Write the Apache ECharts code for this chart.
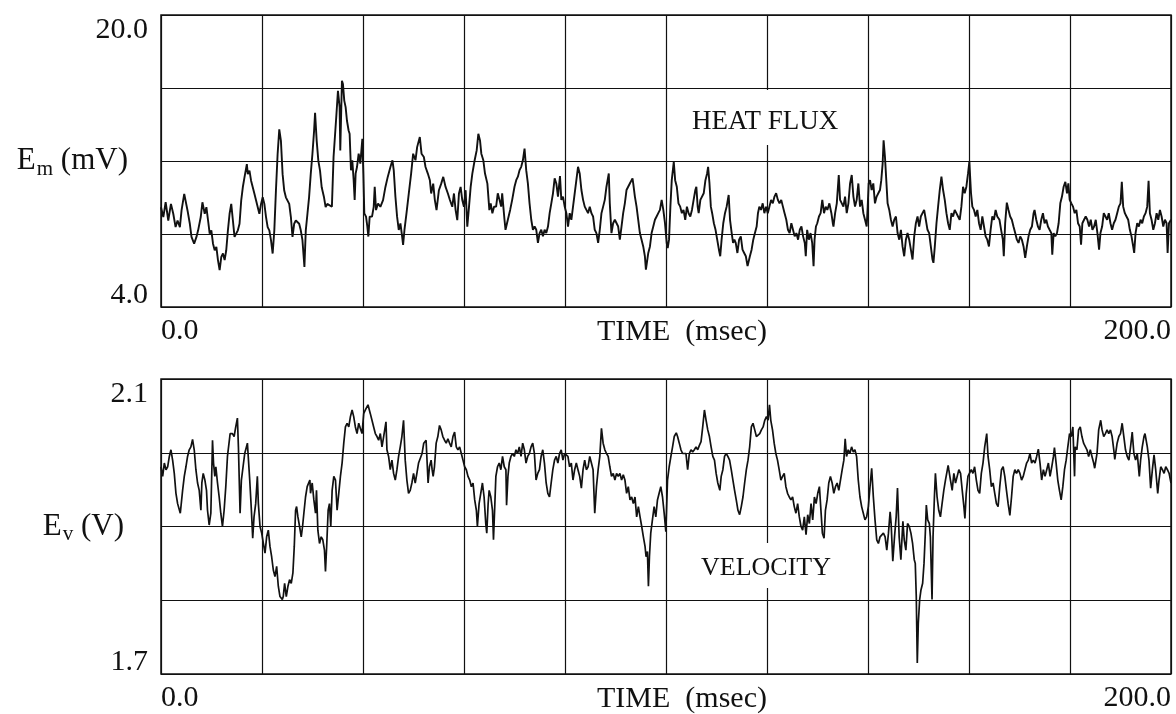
<!DOCTYPE html>
<html>
<head>
<meta charset="utf-8">
<title>Heat flux and velocity signals</title>
<script src="https://cdn.jsdelivr.net/npm/echarts@6.0.0/dist/echarts.min.js"></script>
<style>
  html, body { margin: 0; padding: 0; background: #ffffff; }
  #chart { width: 1176px; height: 714px; }
</style>
</head>
<body>
<div id="chart"></div>
<script>
// Time window shared by both traces (msec)
const timeRange = [0, 200];
const timeStep = 20;

// Heat-flux gauge output E_m (mV)
const heatFluxRange = [4, 20];
const heatFluxStep = 4;

// Velocity probe output E_v (V)
const velocityRange = [1.7, 2.1];
const velocityStep = 0.1;

// Heat-flux trace: [time (msec), E_m (mV)]
const heatFlux = [
  [0,9.47],[0.46,8.93],[0.92,9.74],[1.44,8.74],[1.97,9.65],[2.43,9.11],[2.89,8.38],[3.28,8.74],[3.74,8.38],[4.07,9.29],
  [4.6,10.2],[5.25,9.29],[5.71,8.56],[6.04,7.84],[6.56,7.47],[7.02,7.84],[7.35,8.2],[7.87,8.93],[8.2,9.74],[8.66,9.11],
  [8.99,9.47],[9.32,8.74],[9.64,8.02],[9.97,8.2],[10.3,7.47],[10.63,7.11],[10.96,7.29],[11.28,6.57],[11.61,6.02],[11.94,6.75],
  [12.27,6.93],[12.6,6.57],[12.92,7.11],[13.25,8.2],[13.58,9.11],[13.91,9.65],[14.24,8.74],[14.56,7.84],[14.89,8.02],[15.22,8.2],
  [15.55,8.56],[15.88,9.83],[16.2,10.56],[16.53,11.1],[17.0,11.83],[17.19,11.28],[17.52,11.47],[17.84,10.92],[18.17,10.56],[18.5,10.2],
  [18.83,9.83],[19.16,9.47],[19.48,9.11],[19.81,9.65],[20.14,10.01],[20.47,9.65],[20.8,8.93],[21.12,8.38],[21.45,8.2],[21.78,7.66],
  [22.11,6.93],[22.44,8.2],[22.76,10.38],[23.09,12.37],[23.42,13.73],[23.75,13.1],[24.08,11.28],[24.4,10.38],[24.73,10.01],[25.06,9.83],
  [25.39,9.65],[25.72,8.93],[26.04,7.84],[26.37,8.56],[26.7,8.74],[27.03,8.74],[27.36,8.56],[27.68,8.2],[28.01,7.66],[28.4,6.2],
  [28.67,8.2],[29.0,9.11],[29.32,10.01],[29.65,11.28],[29.98,12.37],[30.31,13.64],[30.51,14.64],[30.83,13.1],[31.16,12.01],[31.49,11.47],
  [31.82,10.56],[32.28,10.01],[32.6,9.47],[32.93,9.65],
  [33.18,9.6],[33.84,9.49],[34.17,12.22],[34.7,14.4],[35.04,15.85],[35.37,14.95],[35.5,12.58],[35.83,16.4],[36.03,16.22],[36.29,15.31],
  [36.56,14.95],[36.82,14.22],[37.15,13.67],[37.35,13.49],[37.62,11.49],[37.88,12.04],[38.15,10.95],[38.35,9.86],[38.54,11.31],[38.81,11.67],
  [39.14,12.4],[39.47,11.86],[39.87,13.22],[40.07,11.31],[40.26,9.13],[40.6,8.95],[40.86,8.4],[41.06,7.86],[41.32,8.95],[41.79,8.95],
  [42.12,9.49],[42.32,10.58],[42.58,9.31],[42.98,9.67],[43.44,9.49],[43.97,9.86],[44.44,10.58],[44.9,11.13],[45.43,11.67],[45.83,12.04],
  [46.09,11.49],[46.42,10.04],[46.75,8.95],[47.08,8.22],[47.41,8.58],[47.75,7.86],[47.94,7.4],[48.21,8.22],[48.61,9.13],[49.07,10.22],
  [49.53,11.31],[49.93,12.4],[50.39,12.04],[50.72,12.76],[51.25,13.31],[51.59,12.4],[52.05,12.22],[52.38,11.67],[52.84,11.31],[53.24,10.95],
  [53.5,10.22],[53.9,10.76],[54.23,9.86],[54.56,9.31],[55.03,10.4],[55.49,10.76],[55.89,11.13],[56.35,10.58],[56.81,10.22],[57.21,9.86],
  [57.68,9.49],[58.01,10.22],[58.34,9.31],[58.67,8.76],[59.0,10.22],[59.33,10.58],[59.66,9.86],[59.99,9.49],[60.32,10.4],[60.65,8.4],
  [60.99,9.49],[61.32,10.58],[61.65,11.31],[62.11,12.04],[62.51,12.58],[62.84,13.49],[63.17,13.13],[63.43,12.4],[63.83,12.04],[64.16,11.31],
  [64.63,10.76],[65.02,9.31],[65.29,9.67],[65.62,9.13],[65.95,9.49],
  [66.36,9.5],[66.69,10.23],[67.03,9.87],[67.36,9.5],[67.56,10.23],[68.02,8.78],[68.22,8.23],[68.68,8.78],[69.14,9.32],[69.54,9.87],
  [70.0,10.59],[70.34,10.95],[70.67,11.14],[71.0,11.5],[71.33,11.68],[71.66,12.04],[71.99,12.68],[72.32,11.5],[72.65,10.77],[72.98,9.68],
  [73.32,8.78],[73.65,8.23],[73.98,8.41],[74.31,8.23],[74.64,7.51],[74.97,8.05],[75.3,8.23],[75.63,7.87],[75.96,8.23],[76.29,8.05],
  [76.63,8.41],[76.96,9.14],[77.29,9.68],[77.62,10.23],[77.95,11.05],[78.28,10.77],[78.61,10.05],[79.01,11.17],[79.27,9.87],[79.6,10.05],
  [79.94,9.5],[80.27,9.14],[80.6,8.41],[80.93,9.14],[81.26,8.78],[81.59,9.5],[81.92,10.23],[82.25,10.95],[82.58,11.68],[82.91,11.32],
  [83.25,10.41],[83.58,9.87],[83.91,9.5],[84.24,9.32],[84.57,9.14],[84.9,9.5],[85.23,9.14],[85.56,8.96],[85.89,8.23],[86.22,8.05],
  [86.56,7.51],[86.89,8.23],[87.22,9.14],[87.55,9.5],[87.88,9.87],[88.21,10.59],[88.67,11.32],[88.87,9.68],[89.2,8.05],[89.53,8.59],
  [89.87,8.78],[90.2,8.78],[90.53,8.41],[90.86,7.69],[91.19,8.41],[91.52,9.14],[91.85,9.68],[92.18,10.41],[92.51,10.59],[92.84,10.77],
  [93.37,11.05],[93.51,10.77],[93.84,10.05],[94.17,9.5],[94.5,8.78],[94.83,8.05],[95.16,7.69],[95.49,7.32],[95.82,6.78],[96.02,6.05],
  [96.49,6.96],[96.82,7.32],[97.15,8.05],[97.48,8.41],[97.81,8.78],[98.14,8.96],[98.47,9.14],[98.8,9.32],
  [99.14,9.87],[99.47,9.32],[99.8,8.59],[100.14,7.51],[100.34,7.23],[100.6,7.69],[100.87,9.5],[101.14,10.95],[101.54,11.95],[101.81,10.95],
  [102.14,10.59],[102.47,9.68],[102.81,9.5],[103.14,9.14],[103.47,9.32],[103.81,8.78],[104.14,9.5],[104.47,9.14],[104.81,8.96],[105.14,9.32],
  [105.47,9.87],[105.81,10.41],[106.01,10.59],[106.27,9.5],[106.47,9.14],[106.81,9.87],[107.14,9.87],[107.47,10.23],[107.81,10.95],[108.14,11.32],
  [108.34,11.68],[108.61,10.77],[108.88,9.5],[109.14,9.14],[109.48,8.59],[109.81,8.23],[110.14,7.69],[110.48,7.14],[110.74,6.78],[111.01,7.69],
  [111.34,8.59],[111.68,9.14],[112.01,9.5],[112.41,10.14],[112.68,8.78],[113.01,8.05],[113.28,7.51],[113.54,7.69],[113.81,7.51],[114.14,6.96],
  [114.48,7.69],[114.81,7.87],[115.15,7.14],[115.48,6.96],[115.81,6.78],[116.15,6.24],[116.35,6.14],[116.61,6.78],[116.95,7.14],[117.28,7.69],
  [117.61,8.05],[117.95,8.41],[118.21,9.14],[118.48,9.5],[118.81,9.32],[119.15,9.68],[119.48,9.14],[119.81,9.5],[120.15,9.14],[120.48,9.5],
  [120.81,9.87],[121.15,9.68],[121.48,10.05],[121.81,10.23],[122.15,9.87],[122.48,9.68],[122.82,9.87],[123.15,9.5],[123.48,9.14],[123.82,8.78],
  [124.15,8.23],[124.48,8.05],[124.82,8.59],[125.15,8.23],[125.48,7.87],[125.82,8.05],[126.15,7.69],[126.49,8.23],[126.82,8.41],[127.15,7.87],
  [127.48,7.51],[127.68,6.78],[127.95,8.23],[128.29,7.69],[128.62,8.05],[128.95,7.51],[129.22,6.24],[129.42,7.69],[129.69,8.41],[129.95,8.59],
  [130.29,8.96],[130.62,9.14],[130.95,9.87],[131.29,9.14],[131.62,9.5],[131.95,9.32],[132.35,9.68],[132.75,9.14],
  [133.03,8.59],[133.16,8.41],[133.49,9.14],[133.82,9.68],[134.21,11.23],[134.47,9.87],[134.8,9.87],[135.13,9.5],[135.46,10.05],[135.79,9.14],
  [136.12,9.68],[136.45,10.77],[136.78,11.23],[137.11,10.05],[137.43,9.5],[137.76,9.87],[138.09,10.77],[138.42,9.5],[138.75,9.87],[139.08,9.14],
  [139.41,8.78],[139.74,8.41],[139.94,9.5],[140.13,10.77],[140.4,10.95],[140.72,10.41],[141.05,10.77],[141.38,9.68],[141.71,10.05],[142.04,10.23],
  [142.37,10.41],[142.63,10.95],[142.9,11.86],[143.09,13.13],[143.36,12.22],[143.62,10.95],[143.88,9.68],[144.21,9.32],[144.54,8.78],[144.87,8.41],
  [145.2,8.78],[145.53,8.96],[145.86,8.05],[146.19,7.69],[146.52,8.23],[146.84,7.32],[147.17,6.78],[147.5,7.69],[147.83,8.05],[148.16,7.69],
  [148.49,7.14],[148.82,6.6],[149.15,7.87],[149.48,8.59],[149.81,8.96],[150.13,8.41],[150.46,8.96],[150.79,9.14],[151.12,9.32],[151.45,8.78],
  [151.78,8.23],[152.11,8.05],[152.44,7.32],[152.77,6.6],[152.96,6.42],[153.23,7.32],[153.56,8.59],[153.88,9.5],[154.21,10.41],[154.54,11.14],
  [154.87,10.41],[155.2,9.87],[155.53,9.14],[155.86,8.59],[156.19,8.23],[156.52,9.14],[156.85,8.96],[157.17,9.32],[157.5,9.14],[157.83,8.96],
  [158.16,8.78],[158.49,9.5],[158.82,10.59],[159.15,10.23],[159.48,10.59],[159.81,11.32],[160.07,11.95],[160.4,10.23],[160.66,9.5],[160.99,9.32],
  [161.32,8.96],[161.65,9.32],[161.98,8.59],[162.31,8.23],[162.64,8.96],[162.97,8.41],[163.29,7.87],[163.62,7.69],[163.95,7.32],[164.28,8.23],
  [164.61,8.96],[164.94,8.78],[165.27,9.32],[165.6,8.96],
  [166.03,8.78],[166.36,8.23],[166.7,7.69],[166.89,6.78],[167.16,8.59],[167.49,9.72],[167.82,9.32],[168.15,8.96],[168.48,8.78],[168.81,8.41],
  [169.15,8.05],[169.48,7.69],[169.81,7.51],[170.14,7.87],[170.47,7.69],[170.8,7.32],[171.13,6.69],[171.46,7.32],[171.79,7.87],[172.12,8.23],
  [172.46,8.41],[172.79,9.14],[172.98,9.32],[173.32,8.78],[173.65,8.41],[173.98,8.23],[174.31,8.78],[174.64,9.14],[174.97,8.59],[175.3,8.78],
  [175.63,8.41],[175.96,8.23],[176.3,8.05],[176.49,6.87],[176.76,8.05],[177.09,7.87],[177.42,8.05],[177.75,8.59],[178.08,9.68],[178.41,10.05],
  [178.74,10.59],[179.08,10.86],[179.41,10.23],[179.67,10.77],[179.94,9.87],[180.27,9.68],[180.6,9.5],[180.93,9.14],[181.26,9.32],[181.59,8.59],
  [181.92,8.41],[182.19,7.42],[182.45,8.59],[182.78,8.78],[183.11,8.96],[183.44,8.78],[183.78,8.41],[184.11,8.78],[184.44,8.23],[184.77,8.41],
  [185.1,8.78],[185.43,8.05],[185.76,7.14],[186.03,8.05],[186.36,8.41],[186.69,9.14],[187.02,8.96],[187.35,8.78],[187.68,9.14],[188.01,8.59],
  [188.34,8.23],[188.67,8.59],[189.0,8.78],[189.34,9.14],[189.67,9.5],[190.0,9.68],[190.26,10.86],[190.53,9.5],[190.86,9.14],[191.19,8.96],
  [191.52,8.78],[191.85,8.23],[192.18,7.87],[192.51,7.32],[192.71,6.96],[192.98,8.05],[193.31,8.59],[193.64,8.41],[193.97,8.78],[194.3,8.59],
  [194.63,8.96],[194.96,9.14],[195.29,9.5],[195.56,10.92],[195.82,9.14],[196.15,8.78],[196.49,8.23],[196.82,8.59],[197.15,9.14],[197.48,8.78],
  [197.81,9.32],[198.14,8.96],[198.47,8.41],[198.8,8.78],[199.13,8.59],[199.33,6.96],[199.6,8.59],[200,8.78]
];

// Velocity trace: [time (msec), E_v (V)]
const velocity = [
  [0,1.981],[0.33,1.968],[0.66,1.986],[0.99,1.977],[1.32,1.981],[1.65,1.995],[1.97,2.004],[2.3,1.99],[2.63,1.972],[2.96,1.945],
  [3.29,1.931],[3.82,1.918],[4.28,1.949],[4.61,1.968],[4.94,1.981],[5.26,1.995],[5.59,2.004],[5.92,2.008],[6.25,2.018],[6.58,2.004],
  [6.91,1.977],[7.24,1.959],[7.57,1.949],[7.9,1.922],[8.09,1.959],[8.36,1.972],[8.69,1.963],[9.01,1.949],[9.21,1.922],[9.54,1.902],
  [9.87,1.918],[10.2,2.017],[10.4,1.986],[10.66,1.968],[10.86,1.981],[11.19,1.959],[11.52,1.94],[11.84,1.918],[12.17,1.9],[12.5,1.922],
  [12.83,1.954],[13.16,1.995],[13.69,2.026],[14.15,2.026],[14.48,2.022],[14.8,2.035],[15.13,2.047],[15.33,2.008],[15.66,1.918],[15.92,1.963],
  [16.25,1.981],[16.58,1.999],[17.11,2.013],[17.24,1.999],[17.57,1.963],[17.9,1.922],[18.16,1.884],[18.42,1.913],[18.75,1.931],[19.08,1.968],
  [19.28,1.931],[19.61,1.9],[19.94,1.891],[20.27,1.877],[20.6,1.864],[20.92,1.886],[21.25,1.895],[21.58,1.873],[21.91,1.859],[22.24,1.841],
  [22.57,1.832],[22.9,1.846],[23.23,1.819],[23.56,1.805],[24.02,1.801],[24.21,1.805],[24.48,1.823],[24.81,1.805],[25.14,1.819],[25.46,1.828],
  [25.79,1.823],[26.12,1.837],[26.39,1.873],[26.65,1.922],[26.85,1.927],[27.11,1.913],[27.44,1.9],[27.77,1.886],[28.03,1.9],[28.29,1.918],
  [28.62,1.94],[28.95,1.954],[29.48,1.963],[29.61,1.945],[29.94,1.959],[30.27,1.936],[30.6,1.918],[30.79,1.949],[31.06,1.895],[31.39,1.877],
  [31.72,1.886],[32.04,1.882],[32.37,1.868],[32.57,1.839],[32.83,1.877],[33.1,1.922],[33.36,1.931],[33.62,1.9],[33.89,1.949],[34.22,1.968],
  [34.55,1.963],[34.87,1.922],[35.2,1.945],[35.53,1.968],[35.86,1.986],[36.19,2.013],[36.52,2.035],[36.85,2.04],[37.18,2.035],[37.51,2.049],
  [37.84,2.058],[38.16,2.049],[38.49,2.035],[38.82,2.026],[39.15,2.04],[39.48,2.033],[39.81,2.026],[40.14,2.053],[40.47,2.058],[40.99,2.065],
  [41.45,2.053],[41.78,2.044],[42.11,2.035],[42.44,2.026],[42.77,2.022],[43.1,2.017],[43.43,2.026],[43.76,2.008],[44.09,2.022],[44.55,2.042],
  [44.74,2.004],[45.07,1.995],[45.4,1.977],[45.73,1.99],[46.06,1.972],[46.39,1.963],[46.72,1.977],[47.05,1.995],[47.38,2.008],[47.7,2.022],
  [48.03,2.044],[48.36,1.99],[48.69,1.963],[49.02,1.945],[49.35,1.949],[49.68,1.959],[50.01,1.972],[50.34,1.959],[50.67,1.972],[51.0,1.986],
  [51.37,1.986],[51.7,1.999],[52.03,2.013],[52.49,2.017],[52.89,1.959],[53.16,1.981],[53.49,1.99],[53.69,1.977],[53.89,1.968],[54.15,1.981],
  [54.49,2.013],[54.82,2.022],[55.15,2.037],[55.48,2.031],[55.81,2.022],[56.15,2.017],[56.48,2.013],[56.81,2.019],[57.14,2.013],[57.47,2.008],
  [57.81,2.022],[58.14,2.028],[58.47,2.008],[58.8,2.004],[59.13,2.008],[59.47,1.999],[59.8,1.99],[60.13,1.981],[60.46,1.977],[60.79,1.968],
  [61.13,1.963],[61.46,1.954],[61.79,1.959],[62.12,1.936],[62.45,1.922],[62.65,1.9],[62.99,1.931],[63.32,1.945],[63.65,1.959],[63.98,1.94],
  [64.31,1.904],[64.51,1.891],[64.78,1.931],[64.98,1.949],[65.31,1.94],[65.64,1.922],[65.84,1.882],[66.11,1.931],[66.31,1.968],[66.64,1.981],
  [66.97,1.986],[67.3,1.977],[67.63,1.995],[67.97,1.981],[68.3,1.977],[68.43,1.929],[68.7,1.968],[68.96,1.986],[69.29,1.995],[69.63,1.999],
  [69.96,1.995],[70.29,2.004],[70.62,1.999],[70.95,2.008],[71.29,1.995],[71.62,2.013],[71.95,2.004],[72.28,1.986],[72.61,1.995],[72.95,1.999],
  [73.28,2.008],[73.61,2.013],[73.94,1.999],[74.27,1.963],[74.61,1.972],[74.94,1.977],[75.27,1.995],[75.6,2.004],[75.93,1.986],[76.27,1.959],
  [76.6,1.945],[76.93,1.94],[77.26,1.959],[77.59,1.977],[77.93,1.99],[78.26,1.995],[78.59,1.986],[78.92,1.999],[79.25,2.004],[79.59,1.99],
  [79.92,1.999],[80.25,1.999],[80.58,1.995],[80.91,1.981],[81.25,1.986],[81.58,1.963],[81.91,1.977],[82.24,1.986],[82.57,1.977],[82.91,1.968],
  [83.24,1.952],[83.57,1.977],[83.9,1.99],[84.23,1.977],[84.57,1.981],[84.9,1.995],[85.23,1.986],[85.56,1.977],[85.89,1.918],[86.23,1.954],
  [86.56,1.977],[86.89,1.995],[87.22,2.033],[87.55,2.013],[87.89,2.004],[88.22,1.999],[88.55,1.995],[88.88,1.981],[89.21,1.968],[89.55,1.972],
  [89.88,1.963],[90.21,1.972],[90.54,1.968],[90.87,1.972],[91.21,1.963],[91.54,1.97],[91.87,1.963],[92.2,1.945],[92.53,1.954],[92.87,1.936],
  [93.2,1.94],[93.53,1.931],[93.86,1.94],[94.19,1.913],[94.53,1.927],[94.86,1.913],[95.19,1.9],[95.52,1.886],[95.85,1.873],[96.05,1.859],
  [96.32,1.866],[96.52,1.819],[96.72,1.859],[96.98,1.891],[97.31,1.909],[97.65,1.927],[97.98,1.913],[98.31,1.936],[98.64,1.945],[98.97,1.954],
  [99.31,1.94],[99.64,1.918],[99.97,1.893],[100.3,1.963],[100.63,1.981],[100.97,1.995],[101.3,2.008],[101.63,2.022],[102.03,2.027],[102.29,2.022],
  [102.63,2.013],[102.96,2.004],[103.29,1.999],[103.62,2.001],[103.95,1.999],[104.29,1.977],[104.62,1.999],[104.95,2.004],[105.28,2.001],[105.61,2.004],
  [105.95,2.008],[106.28,2.004],[106.61,2.01],[106.94,2.015],[107.27,2.035],[107.61,2.058],[107.94,2.044],[108.27,2.031],[108.6,2.022],[108.93,2.008],
  [109.27,1.995],[109.6,1.99],[109.93,1.972],[110.26,1.959],[110.66,1.949],[110.93,1.968],[111.26,1.977],[111.59,1.995],[111.92,1.999],[112.25,1.995],
  [112.59,1.99],[112.92,1.977],[113.25,1.963],[113.58,1.949],[113.91,1.936],[114.25,1.922],[114.58,1.916],[114.91,1.927],[115.24,1.94],[115.57,1.959],
  [115.91,1.977],[116.24,1.99],[116.57,2.008],[116.9,2.035],[117.23,2.04],[117.57,2.031],[117.9,2.022],[118.23,2.024],[118.56,2.026],[118.89,2.031],
  [119.23,2.035],[119.56,2.044],[119.89,2.049],[120.22,2.044],[120.49,2.065],[120.75,2.044],[121.09,2.031],[121.42,2.013],[121.75,1.999],[122.08,1.99],
  [122.41,1.977],[122.75,1.963],[123.08,1.968],[123.41,1.972],[123.74,1.954],[124.07,1.945],[124.41,1.94],[124.74,1.936],[125.07,1.94],[125.4,1.927],
  [125.73,1.918],[126.07,1.931],[126.4,1.913],[126.73,1.9],[127.06,1.895],[127.39,1.913],[127.73,1.889],[128.06,1.916],[128.39,1.904],[128.72,1.931],
  [129.05,1.909],[129.39,1.94],[129.72,1.931],[130.05,1.945],[130.38,1.954],
  [130.97,1.891],[131.3,1.884],[131.57,1.922],[131.9,1.936],[132.23,1.959],[132.56,1.968],[132.9,1.959],[133.23,1.945],[133.56,1.954],[133.89,1.959],
  [134.22,1.949],[134.55,1.949],[134.89,1.977],[135.22,1.99],[135.48,2.019],[135.75,1.995],[136.08,2.004],[136.41,1.999],[136.75,2.008],[137.08,2.001],
  [137.41,2.004],[137.74,1.995],[138.07,1.963],[138.41,1.94],[138.74,1.927],[139.07,1.918],[139.4,1.909],[139.73,1.913],[140.07,1.927],[140.4,1.954],
  [140.73,1.979],[141.06,1.94],[141.39,1.909],[141.73,1.882],[142.06,1.877],[142.39,1.886],[142.72,1.886],[143.05,1.891],[143.39,1.886],[143.72,1.868],
  [144.05,1.891],[144.38,1.92],[144.58,1.904],[144.91,1.853],[145.25,1.886],[145.58,1.913],[145.84,1.952],[146.17,1.886],[146.51,1.855],[146.91,1.907],
  [147.17,1.882],[147.5,1.868],[147.83,1.904],[148.17,1.9],[148.5,1.891],[148.83,1.877],[149.16,1.855],[149.36,1.85],[149.56,1.805],[149.76,1.715],
  [149.96,1.769],[150.23,1.801],[150.49,1.814],[150.82,1.823],[151.09,1.85],[151.35,1.891],[151.55,1.929],[151.82,1.909],[152.15,1.904],[152.35,1.886],
  [152.68,1.801],[152.88,1.886],[153.15,1.94],[153.35,1.972],[153.68,1.94],[154.01,1.922],[154.34,1.913],[154.67,1.931],[155.01,1.949],[155.34,1.963],
  [155.87,1.983],[156.0,1.977],[156.33,1.963],[156.67,1.949],[157.0,1.972],[157.33,1.959],[157.66,1.968],[157.99,1.977],[158.33,1.972],[158.66,1.949],
  [158.99,1.927],[159.19,1.911],[159.45,1.945],[159.79,1.968],[160.12,1.968],[160.45,1.977],[160.78,1.972],[161.11,1.981],[161.45,1.963],[161.78,1.949],
  [162.11,1.945],[162.44,1.972],[162.77,1.986],[163.11,2.008],[163.51,2.026],[163.77,1.995],[164.1,1.977],[164.43,1.954],[164.77,1.959],[165.1,1.945],
  [165.43,1.931],[165.76,1.927],[166.09,1.954],[166.43,1.977],[166.76,1.981],[167.09,1.968],[167.42,1.949],[167.75,1.931],[168.09,1.915],[168.42,1.94],
  [168.75,1.968],[169.08,1.977],[169.41,1.972],[169.75,1.977],[170.08,1.972],[170.41,1.963],[170.74,1.968],[171.07,1.977],[171.41,1.986],[171.74,1.99],
  [172.07,1.999],[172.4,1.986],[172.73,1.99],[173.07,1.986],[173.4,1.995],[173.73,2.005],[174.06,1.986],[174.39,1.963],[174.73,1.977],[175.06,1.968],
  [175.39,1.977],[175.72,1.986],[176.05,1.968],[176.39,1.981],[176.72,1.995],[176.92,2.007],[177.25,1.986],[177.58,1.963],[177.91,1.949],[178.25,1.936],
  [178.58,1.954],[178.91,1.977],[179.24,1.99],[179.57,2.008],[179.91,2.026],[180.24,2.022],[180.57,2.035],[180.9,1.968],[181.03,2.008],[181.37,2.004],
  [181.7,2.031],[182.03,2.035],[182.36,2.022],[182.69,2.013],[183.03,2.013],[183.36,2.004],[183.69,1.995],[184.02,2.004],[184.35,1.995],[184.69,1.986],
  [184.89,1.979],[185.35,1.999],[185.68,2.031],[186.08,2.044],[186.35,2.031],[186.68,2.022],[187.01,2.026],[187.34,2.031],[187.67,2.026],[188.01,2.031],
  [188.34,2.022],[188.67,2.004],[188.87,1.991],[189.33,2.013],[189.67,2.022],[190.0,2.026],[190.33,2.04],[190.66,2.022],[190.99,2.004],[191.33,1.995],
  [191.66,1.99],[191.99,2.008],[192.32,2.028],[192.65,1.999],[192.99,1.99],[193.32,1.999],[193.72,1.968],[193.98,1.99],[194.31,2.008],[194.65,2.022],
  [194.85,2.026],[195.31,2.008],[195.64,1.99],[195.97,1.952],[196.31,1.977],[196.64,1.997],[196.97,1.977],[197.37,1.945],[197.63,1.963],[197.97,1.981],
  [198.3,1.977],[198.63,1.972],[198.96,1.981],[199.29,1.977],[199.63,1.972],[200,1.959]
];

const INK = '#111111';
const SERIF = '"Liberation Serif", "Times New Roman", serif';
const near = (a, b) => Math.abs(a - b) < 1e-6;

// Only the end values of each axis carry a label; they sit just inside the frame.
function endLabel(range, digits) {
  return function (v) {
    if (near(v, range[1])) return '{hi|' + v.toFixed(digits) + '}';
    if (near(v, range[0])) return '{lo|' + v.toFixed(digits) + '}';
    return '';
  };
}
const endRich = {
  hi: { fontFamily: SERIF, fontSize: 30, color: INK, padding: [30, 0, 0, 0] },
  lo: { fontFamily: SERIF, fontSize: 30, color: INK, padding: [0, 0, 24, 0] }
};

function timeAxis(gridIndex) {
  return {
    type: 'value', gridIndex,
    min: timeRange[0], max: timeRange[1], interval: timeStep,
    name: 'TIME  (msec)', nameLocation: 'middle', nameGap: 10, nameMoveOverlap: false,
    nameTextStyle: { fontFamily: SERIF, fontSize: 30, color: INK, padding: [0, 0, 0, 32] },
    axisLine: { show: false }, axisTick: { show: false },
    axisLabel: {
      fontFamily: SERIF, fontSize: 30, color: INK, margin: 9,
      showMinLabel: true, showMaxLabel: true,
      alignMinLabel: 'left', alignMaxLabel: 'right',
      formatter: v => (near(v, timeRange[0]) || near(v, timeRange[1])) ? v.toFixed(1) : ''
    },
    splitLine: { show: true, lineStyle: { color: INK, width: 1.2 } }
  };
}

function valueAxis(gridIndex, range, step, digits, name, nameGap) {
  return {
    type: 'value', gridIndex,
    min: range[0], max: range[1], interval: step,
    name, nameLocation: 'middle', nameRotate: 0, nameGap, nameMoveOverlap: false,
    nameTextStyle: { rich: nameRich },
    axisLine: { show: false }, axisTick: { show: false },
    axisLabel: {
      margin: 13, showMinLabel: true, showMaxLabel: true,
      formatter: endLabel(range, digits), rich: endRich
    },
    splitLine: { show: true, lineStyle: { color: INK, width: 1.2 } }
  };
}

const nameRich = {
  b: { fontFamily: SERIF, fontSize: 31, color: INK, lineHeight: 40, verticalAlign: 'middle' },
  s: { fontFamily: SERIF, fontSize: 21, color: INK, lineHeight: 40, verticalAlign: 'middle', padding: [16, 0, 0, 1] }
};

const chart = echarts.init(document.getElementById('chart'), null, { renderer: 'canvas' });

const gridBase = {
  left: 161, width: 1010, show: true, borderColor: INK, borderWidth: 1.5,
  backgroundColor: 'transparent', containLabel: false, outerBoundsMode: 'none'
};

chart.setOption({
  backgroundColor: '#ffffff',
  animation: false,
  grid: [
    Object.assign({}, gridBase, { top: 15, height: 292 }),
    Object.assign({}, gridBase, { top: 379, height: 295 })
  ],
  xAxis: [timeAxis(0), timeAxis(1)],
  yAxis: [
    valueAxis(0, heatFluxRange, heatFluxStep, 1, '{b|E}{s|m}{b| (mV)}', 33),
    valueAxis(1, velocityRange, velocityStep, 1, '{b|E}{s|v}{b| (V)}', 37)
  ],
  series: [
    {
      name: 'HEAT FLUX', type: 'line', xAxisIndex: 0, yAxisIndex: 0,
      data: heatFlux, showSymbol: false, silent: true,
      lineStyle: { color: INK, width: 1.9 }, z: 3
    },
    {
      name: 'VELOCITY', type: 'line', xAxisIndex: 1, yAxisIndex: 1,
      data: velocity, showSymbol: false, silent: true,
      lineStyle: { color: INK, width: 1.7 }, z: 3
    }
  ],
  graphic: [
    {
      type: 'text', left: 688, top: 90, z: 10, silent: true,
      style: {
        text: 'HEAT FLUX', fontFamily: SERIF, fontSize: 27, fill: INK,
        backgroundColor: '#ffffff', padding: [18, 4, 10, 4]
      }
    },
    {
      type: 'text', left: 697, top: 543, z: 10, silent: true,
      style: {
        text: 'VELOCITY', fontFamily: SERIF, fontSize: 26, fill: INK,
        backgroundColor: '#ffffff', padding: [12, 4, 7, 4]
      }
    }
  ]
});
</script>
</body>
</html>
